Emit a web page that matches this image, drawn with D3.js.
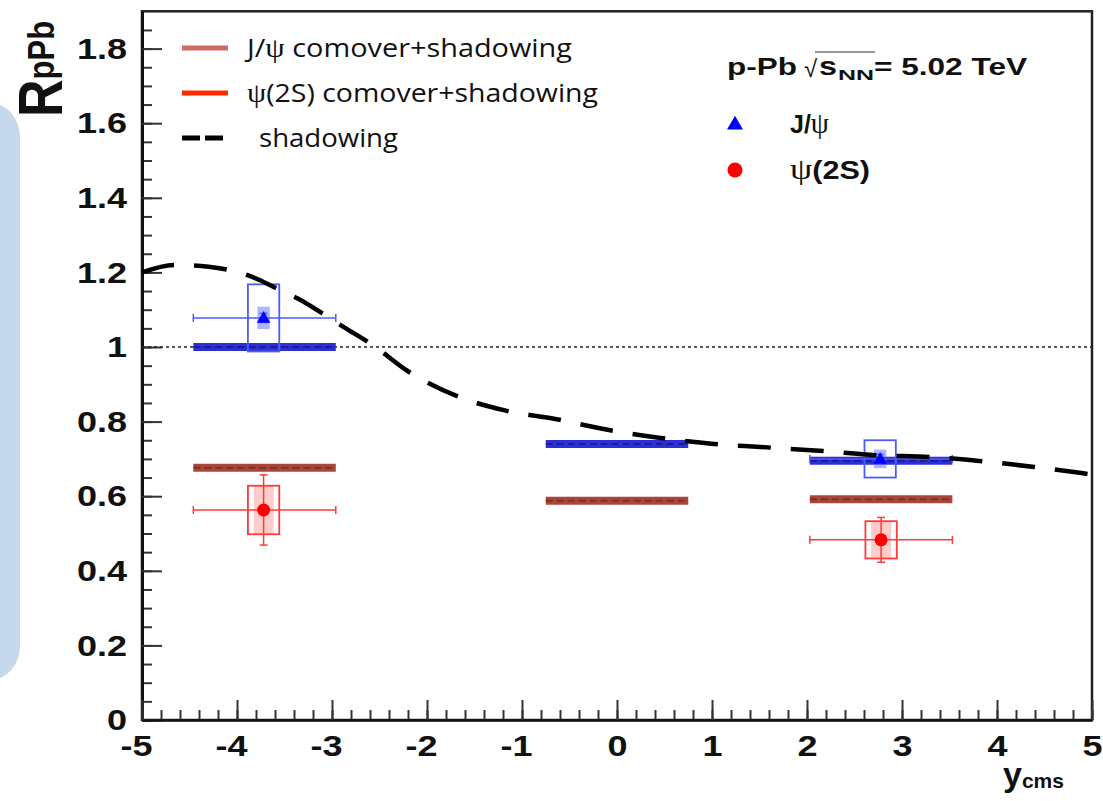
<!DOCTYPE html>
<html>
<head>
<meta charset="utf-8">
<script src="https://cdn.jsdelivr.net/npm/d3@7"></script>
<style>
body { margin: 0; background: #fff; }
</style>
</head>
<body>
<svg id="fig" width="1103" height="801"></svg>
<script>
// shadowing curve
var shadowYcms = [-5.0, -4.66, -4.3, -3.86, -3.55, -3.36, -3.04, -2.88, -2.57, -2.2, -1.65, -1.18, -0.65, -0.1, 0.46, 1.02, 1.51, 2.17, 2.72, 3.29, 3.84, 4.4, 4.89, 5.0];
var shadowR    = [1.20, 1.22, 1.215, 1.19, 1.153, 1.13, 1.08, 1.054, 1.005, 0.935, 0.865, 0.83, 0.807, 0.778, 0.756, 0.74, 0.732, 0.721, 0.71, 0.705, 0.694, 0.678, 0.662, 0.658];

// rapidity bins of the model bands
var binLo = [-4.46, -0.75, 2.03];
var binHi = [-2.96, 0.75, 3.53];
var jpsiBand  = [1.0, 0.74, 0.695];   // blue bands
var psi2sBand = [0.676, 0.588, 0.592]; // brown bands

// data points
var jpsiX    = [-3.72, 2.77];
var jpsiXlo  = [-4.46, 2.03];
var jpsiXhi  = [-2.96, 3.53];
var jpsiR    = [1.078, 0.70];
var jpsiStat = [0.012, 0.012];
var jpsiSys  = [0.09, 0.05];
var jpsiCorr = [0.03, 0.025];

var psiX    = [-3.72, 2.78];
var psiXlo  = [-4.46, 2.03];
var psiXhi  = [-2.96, 3.53];
var psiR    = [0.563, 0.483];
var psiStat = [0.094, 0.06];
var psiSys  = [0.065, 0.05];

var yTicks = [0, 0.2, 0.4, 0.6, 0.8, 1, 1.2, 1.4, 1.6, 1.8];
var xTicks = [-5, -4, -3, -2, -1, 0, 1, 2, 3, 4, 5];

var svg = d3.select("#fig");
var x = d3.scaleLinear().domain([-5, 5]).range([142, 1092]);
var y = d3.scaleLinear().domain([0, 1.9]).range([720, 11.3]);

// blue panel at the left edge
svg.append("rect")
    .attr("x", -40).attr("y", 103)
    .attr("width", 60).attr("height", 577)
    .attr("rx", 34)
    .attr("fill", "#c6d9ec");

// frame
svg.append("rect")
    .attr("x", x(-5)).attr("y", y(1.9))
    .attr("width", x(5)-x(-5)).attr("height", y(0)-y(1.9))
    .attr("fill", "none")
    .attr("stroke", "#222").attr("stroke-width", 2.5);

var rootFont = "'Liberation Sans', Arial, sans-serif";

// y axis
var yMinor = d3.range(0, 1.86, 0.05);
svg.append("g").attr("transform", `translate(${x(-5)},0)`)
    .call(d3.axisLeft(y).tickValues(yMinor).tickSizeInner(-10).tickSizeOuter(0).tickFormat(""))
    .call(g => g.select(".domain").remove())
    .selectAll("line").attr("stroke", "#333").attr("stroke-width", 2);
var gy = svg.append("g").attr("transform", `translate(${x(-5)},0)`)
    .call(d3.axisLeft(y).tickValues(yTicks).tickSizeInner(-20).tickSizeOuter(0).tickPadding(12.5)
        .tickFormat(function(d){ return d3.format(".1f")(d).replace(/\.0$/, ""); }));
gy.select(".domain").attr("stroke", "#111").attr("stroke-width", 3);
gy.selectAll("line").attr("stroke", "#333").attr("stroke-width", 2);
gy.selectAll("text").attr("font-family", rootFont).attr("font-weight", "bold")
    .attr("font-size", 30).attr("fill", "#111")
    .attr("transform", "scale(1.2,1)");

// x axis
var xMinor = d3.range(-5, 5.01, 0.2);
svg.append("g").attr("transform", `translate(0,${y(0)})`)
    .call(d3.axisBottom(x).tickValues(xMinor).tickSizeInner(-10).tickSizeOuter(0).tickFormat(""))
    .call(g => g.select(".domain").remove())
    .selectAll("line").attr("stroke", "#333").attr("stroke-width", 2);
var gx = svg.append("g").attr("transform", `translate(0,${y(0)})`)
    .call(d3.axisBottom(x).tickValues(xTicks).tickSizeInner(-20).tickSizeOuter(0).tickPadding(15)
        .tickFormat(function(d){ return String(d); }));
gx.select(".domain").attr("stroke", "#111").attr("stroke-width", 2.5);
gx.selectAll("line").attr("stroke", "#333").attr("stroke-width", 2);
gx.selectAll("text").attr("font-family", rootFont).attr("font-weight", "bold")
    .attr("font-size", 30).attr("fill", "#111")
    .attr("transform", "scale(1.2,1)")
    .attr("dx", function(d){ return d < 0 ? -5 : 0; });

// axis titles
var yt = svg.append("text")
    .attr("transform", "translate(62,117) scale(1.2,1) rotate(-90)")
    .attr("font-family", rootFont)
    .attr("font-weight", "bold").attr("fill", "#111");
yt.append("tspan").attr("font-size", 52).text("R");
yt.append("tspan").attr("font-size", 31).attr("dy", -7).text("pPb");

var xt = svg.append("text")
    .attr("x", 1003).attr("y", 786)
    .attr("font-family", rootFont)
    .attr("font-weight", "bold").attr("fill", "#111");
xt.append("tspan").attr("font-size", 34).text("y");
xt.append("tspan").attr("font-size", 21).attr("dy", 2).text("cms");

// line at unity
svg.append("line")
    .attr("x1", x(-5)).attr("x2", x(5))
    .attr("y1", y(1)).attr("y2", y(1))
    .attr("stroke", "#222").attr("stroke-width", 1.5)
    .attr("stroke-dasharray", "3,3");

// model bands
var bands = d3.range(binLo.length);
function drawBands(vals, col, dark) {
    svg.append("g").selectAll("line").data(bands).enter().append("line")
        .attr("x1", function(i){ return x(binLo[i]); })
        .attr("x2", function(i){ return x(binHi[i]); })
        .attr("y1", function(i){ return y(vals[i]); })
        .attr("y2", function(i){ return y(vals[i]); })
        .attr("stroke", col).attr("stroke-width", 8);
    svg.append("g").selectAll("line").data(bands).enter().append("line")
        .attr("x1", function(i){ return x(binLo[i]); })
        .attr("x2", function(i){ return x(binHi[i]); })
        .attr("y1", function(i){ return y(vals[i]); })
        .attr("y2", function(i){ return y(vals[i]); })
        .attr("stroke", dark).attr("stroke-width", 2)
        .attr("stroke-dasharray", "7,4").attr("opacity", 0.6);
}
drawBands(jpsiBand, "#2d2fd6", "#10106a");
drawBands(psi2sBand, "#a8463b", "#6e2019");

// data points with errors
function drawPoints(px, plo, phi, pr, stat, sys, col, light, boxW, innerW) {
    var idx = d3.range(px.length);
    var g = svg.append("g");
    // systematic boxes: filled inner part
    g.selectAll("rect.inner").data(idx).enter().append("rect")
        .attr("x", function(i){ return x(px[i]-innerW); })
        .attr("width", function(i){ return x(px[i]+innerW)-x(px[i]-innerW); })
        .attr("y", function(i){ return y(pr[i]+sys[i]); })
        .attr("height", function(i){ return y(pr[i]-sys[i])-y(pr[i]+sys[i]); })
        .attr("fill", light);
    g.selectAll("rect.outer").data(idx).enter().append("rect")
        .attr("x", function(i){ return x(px[i]-boxW); })
        .attr("width", function(i){ return x(px[i]+boxW)-x(px[i]-boxW); })
        .attr("y", function(i){ return y(pr[i]+sys[i]); })
        .attr("height", function(i){ return y(pr[i]-sys[i])-y(pr[i]+sys[i]); })
        .attr("fill", "none").attr("stroke", col).attr("stroke-width", 1.8);
    // horizontal bars
    g.selectAll("line.h").data(idx).enter().append("line")
        .attr("x1", function(i){ return x(plo[i]); })
        .attr("x2", function(i){ return x(phi[i]); })
        .attr("y1", function(i){ return y(pr[i]); })
        .attr("y2", function(i){ return y(pr[i]); })
        .attr("stroke", col).attr("stroke-width", 1.5);
    [plo, phi].forEach(function(ends){
        g.selectAll(null).data(idx).enter().append("line")
            .attr("x1", function(i){ return x(ends[i]); })
            .attr("x2", function(i){ return x(ends[i]); })
            .attr("y1", function(i){ return y(pr[i])-4; })
            .attr("y2", function(i){ return y(pr[i])+4; })
            .attr("stroke", col).attr("stroke-width", 1.5);
    });
    // vertical stat bars
    g.selectAll("line.v").data(idx).enter().append("line")
        .attr("x1", function(i){ return x(px[i]); })
        .attr("x2", function(i){ return x(px[i]); })
        .attr("y1", function(i){ return y(pr[i]+stat[i]); })
        .attr("y2", function(i){ return y(pr[i]-stat[i]); })
        .attr("stroke", col).attr("stroke-width", 1.5);
    [1, -1].forEach(function(s){
        g.selectAll(null).data(idx).enter().append("line")
            .attr("x1", function(i){ return x(px[i])-4; })
            .attr("x2", function(i){ return x(px[i])+4; })
            .attr("y1", function(i){ return y(pr[i]+s*stat[i]); })
            .attr("y2", function(i){ return y(pr[i]+s*stat[i]); })
            .attr("stroke", col).attr("stroke-width", 1.5);
    });
    return g;
}
var gj = drawPoints(jpsiX, jpsiXlo, jpsiXhi, jpsiR, jpsiStat, jpsiSys, "#4a5cff", "none", 0.165, 0.065);
// correlated part of the J/psi errors (small filled box)
gj.selectAll("rect.corr").data(d3.range(jpsiX.length)).enter().append("rect")
    .attr("x", function(i){ return x(jpsiX[i]-0.065); })
    .attr("width", function(i){ return x(jpsiX[i]+0.065)-x(jpsiX[i]-0.065); })
    .attr("y", function(i){ return y(jpsiR[i]+jpsiCorr[i]); })
    .attr("height", function(i){ return y(jpsiR[i]-jpsiCorr[i])-y(jpsiR[i]+jpsiCorr[i]); })
    .attr("fill", "rgba(70,90,255,0.45)");
gj.selectAll("path").data(d3.range(jpsiX.length)).enter().append("path")
    .attr("d", d3.symbol(d3.symbolTriangle, 80))
    .attr("transform", function(i){ return `translate(${x(jpsiX[i])},${y(jpsiR[i])+1})`; })
    .attr("fill", "#0000ff");

var gp = drawPoints(psiX, psiXlo, psiXhi, psiR, psiStat, psiSys, "#ff3a3a", "rgba(255,110,110,0.35)", 0.165, 0.105);
gp.selectAll("circle").data(d3.range(psiX.length)).enter().append("circle")
    .attr("cx", function(i){ return x(psiX[i]); })
    .attr("cy", function(i){ return y(psiR[i]); })
    .attr("r", 6.5).attr("fill", "#ff0000");

// shadowing curve
var line = d3.line()
    .x(function(d, i){ return x(shadowYcms[i]); })
    .y(function(d){ return y(d); })
    .curve(d3.curveMonotoneX);
svg.append("path")
    .datum(shadowR)
    .attr("d", line)
    .attr("fill", "none").attr("stroke", "#000")
    .attr("stroke-width", 4.5).attr("stroke-dasharray", "33,20");

// legend, top left
var legFont = "'Open Sans', sans-serif";
var legItems = [
    { name: ["J/", "ψ", " comover+shadowing"], col: "#cd6a62", dash: null, x: 247, w: 325 },
    { name: ["", "ψ", "(2S) comover+shadowing"], col: "#ff2a00", dash: null, x: 247, w: 351 },
    { name: ["shadowing", "", ""], col: "#000", dash: "18,5", x: 259, w: 139 }
];
var lg = svg.append("g").selectAll("g").data(legItems).enter().append("g")
    .attr("transform", function(d, i){ return `translate(0,${48 + i*45})`; });
lg.append("line")
    .attr("x1", 182).attr("x2", 228).attr("y1", 0).attr("y2", 0)
    .attr("stroke", function(d){ return d.col; }).attr("stroke-width", 5)
    .attr("stroke-dasharray", function(d){ return d.dash; });
var lt = lg.append("text")
    .attr("x", function(d){ return d.x; }).attr("y", 9)
    .attr("font-family", legFont).attr("font-size", 26).attr("fill", "#111")
    .attr("textLength", function(d){ return d.w; })
    .attr("lengthAdjust", "spacingAndGlyphs");
lt.append("tspan").text(function(d){ return d.name[0]; });
lt.append("tspan").attr("font-family", "'Liberation Serif', serif").attr("font-size", 28)
    .text(function(d){ return d.name[1]; });
lt.append("tspan").text(function(d){ return d.name[2]; });

// legend, top right
var rt = svg.append("g").attr("font-family", rootFont)
    .attr("font-weight", "bold").attr("fill", "#111");
rt.append("text").attr("x", 727).attr("y", 75).attr("font-size", 24)
    .attr("textLength", 70).attr("lengthAdjust", "spacingAndGlyphs").text("p-Pb");
rt.append("text").attr("x", 804).attr("y", 77).attr("font-size", 24)
    .attr("font-weight", "normal").text("√");
rt.append("line").attr("x1", 815).attr("x2", 875).attr("y1", 52).attr("y2", 52)
    .attr("stroke", "#333").attr("stroke-width", 1.2);
rt.append("text").attr("x", 819).attr("y", 75).attr("font-size", 26)
    .attr("textLength", 18).attr("lengthAdjust", "spacingAndGlyphs").text("s");
rt.append("text").attr("x", 838).attr("y", 80).attr("font-size", 15)
    .attr("textLength", 36).attr("lengthAdjust", "spacingAndGlyphs").text("NN");
rt.append("text").attr("x", 874).attr("y", 75).attr("font-size", 24)
    .attr("textLength", 153).attr("lengthAdjust", "spacingAndGlyphs").text("= 5.02 TeV");

rt.append("path").attr("d", d3.symbol(d3.symbolTriangle, 110))
    .attr("transform", "translate(735,125)").attr("fill", "#0000ff");
rt.append("circle").attr("cx", 735).attr("cy", 170).attr("r", 7.5).attr("fill", "#ff0000");
var j1 = rt.append("text").attr("x", 790).attr("y", 133).attr("font-size", 25);
j1.append("tspan").text("J/");
j1.append("tspan").attr("font-family", "'Liberation Serif', serif").attr("font-weight", "normal").attr("font-size", 29).text("ψ");
var j2 = rt.append("text").attr("x", 790).attr("y", 179).attr("font-size", 25)
    .attr("textLength", 80).attr("lengthAdjust", "spacingAndGlyphs");
j2.append("tspan").attr("font-family", "'Liberation Serif', serif").attr("font-weight", "normal").attr("font-size", 29).text("ψ");
j2.append("tspan").text("(2S)");
</script>
</body>
</html>
